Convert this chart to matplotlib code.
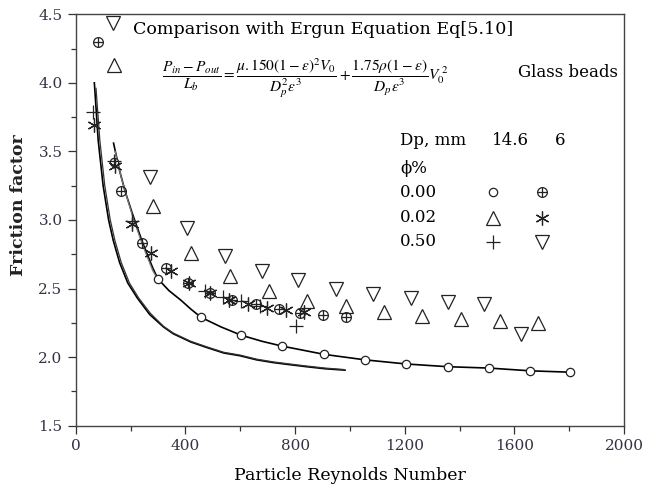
import matplotlib
matplotlib.use("Agg")
import matplotlib.pyplot as plt

plt.rcParams['font.family'] = ['DejaVu Serif']
plt.rcParams['mathtext.fontset'] = 'stix'

# --- measured points (read off the reference) ---
# 14.6 mm, 0.00 %  (open circles)
re_c146 = [140, 300, 457, 603, 753, 906, 1055, 1205, 1357, 1508, 1658, 1803]
f_c146 = [3.42, 2.57, 2.29, 2.16, 2.08, 2.02, 1.98, 1.95, 1.93, 1.92, 1.90, 1.89]

# 6 mm, 0.00 %  (circle with cross)
re_c6 = [80, 164, 243, 328, 411, 490, 571, 657, 740, 819, 902, 985]
f_c6 = [4.30, 3.21, 2.83, 2.65, 2.54, 2.47, 2.42, 2.39, 2.35, 2.32, 2.31, 2.29]

# 14.6 mm, 0.02 %  (up triangles)
re_t146 = [140, 282, 422, 564, 705, 844, 985, 1125, 1264, 1405, 1547, 1687]
f_t146 = [4.13, 3.10, 2.76, 2.59, 2.48, 2.41, 2.37, 2.33, 2.30, 2.28, 2.26, 2.25]

# 6 mm, 0.02 %  (asterisks)
re_a6 = [68, 142, 206, 273, 349, 413, 490, 560, 627, 697, 767, 834]
f_a6 = [3.69, 3.39, 2.97, 2.76, 2.63, 2.54, 2.47, 2.42, 2.39, 2.36, 2.34, 2.33]

# 14.6 mm, 0.50 %  (plus)
re_p146 = [64, 140, 206, 472, 538, 602, 672, 803]
f_p146 = [3.79, 3.43, 2.99, 2.48, 2.44, 2.41, 2.37, 2.23]

# 6 mm, 0.50 %  (down triangles)
re_d6 = [137, 271, 407, 543, 678, 812, 948, 1083, 1222, 1357, 1490, 1624]
f_d6 = [4.44, 3.31, 2.94, 2.74, 2.63, 2.56, 2.50, 2.46, 2.43, 2.40, 2.39, 2.17]

# Ergun curves (traced)
re_e1 = [68, 82, 100, 120, 137, 160, 190, 225, 270, 320, 356, 420, 478, 540,
         599, 660, 721, 780, 842, 910, 982]
f_e1 = [4.00, 3.58, 3.25, 3.00, 2.85, 2.69, 2.54, 2.43, 2.31, 2.22, 2.17, 2.11,
        2.07, 2.03, 2.01, 1.98, 1.96, 1.945, 1.93, 1.915, 1.905]
re_e2 = [74, 88, 106, 126, 143, 166, 196, 230, 272, 320, 356, 420, 478, 540,
         599, 660, 721, 780, 842, 910, 975]
f_e2 = [3.96, 3.58, 3.25, 3.00, 2.85, 2.69, 2.54, 2.43, 2.32, 2.225, 2.175, 2.115,
        2.075, 2.035, 2.015, 1.985, 1.965, 1.95, 1.935, 1.92, 1.91]
re_e3 = [138, 160, 180, 206, 243, 281, 300, 340, 383, 420, 457, 530, 603, 680,
         753, 830, 906, 1055, 1205, 1357, 1508, 1658, 1803]
f_e3 = [3.56, 3.36, 3.21, 3.05, 2.84, 2.65, 2.57, 2.485, 2.416, 2.35, 2.29, 2.22,
        2.16, 2.115, 2.08, 2.05, 2.02, 1.98, 1.95, 1.93, 1.92, 1.90, 1.89]
re_e4 = [144, 166, 186, 210, 245, 281, 300]
f_e4 = [3.50, 3.31, 3.17, 3.01, 2.81, 2.63, 2.565]

fig = plt.figure(figsize=(6.46, 4.94), dpi=100)
ax = fig.add_axes([0.1172, 0.1383, 0.8490, 0.8328])

ink = '#222222'
ax.plot(re_e1, f_e1, color='black', lw=1.2)
ax.plot(re_e2, f_e2, color='#333333', lw=0.9)
ax.plot(re_e3, f_e3, color='black', lw=1.2)
ax.plot(re_e4, f_e4, color='#777777', lw=0.9)

ax.plot(re_c146, f_c146, 'o', ms=6, mfc='white', mec=ink, mew=0.9, ls='none')
ax.plot(re_c6, f_c6, 'o', ms=7, mfc='none', mec=ink, mew=0.9, ls='none')
ax.plot(re_c6, f_c6, '+', ms=7, mec=ink, mew=0.9, ls='none')
ax.plot(re_t146, f_t146, '^', ms=10, mfc='none', mec=ink, mew=0.9, ls='none')
ax.plot(re_a6, f_a6, marker=(6, 2, 0), ms=10, mec=ink, mew=0.9, ls='none')
ax.plot(re_p146, f_p146, '+', ms=10, mec=ink, mew=0.9, ls='none')
ax.plot(re_d6, f_d6, 'v', ms=10, mfc='none', mec=ink, mew=0.9, ls='none')

ax.set_xlim(0, 2000)
ax.set_ylim(1.5, 4.5)
ax.set_xticks(range(0, 2001, 400))
ax.set_xticks(range(200, 2000, 400), minor=True)
ax.set_yticks([1.5, 2.0, 2.5, 3.0, 3.5, 4.0, 4.5])
ax.set_yticklabels(['1.5', '2.0', '2.5', '3.0', '3.5', '4.0', '4.5'])
ax.set_yticks([1.75, 2.25, 2.75, 3.25, 3.75, 4.25], minor=True)
ax.tick_params(which='both', direction='out', top=False, right=False,
               labelsize=11, labelcolor='#333344', color='#333333')
ax.tick_params(which='major', length=6, width=0.9)
ax.tick_params(which='minor', length=3.5, width=0.9)
for s in ax.spines.values():
    s.set_color('#444444')
    s.set_linewidth(1.0)

ax.set_xlabel('Particle Reynolds Number', fontsize=12.5, labelpad=10)
ax.set_ylabel('Friction factor', fontsize=12.5, fontweight='bold', color='#222222')
ax.yaxis.set_label_coords(-0.088, 0.536)

ax.text(0.1045, 0.962, 'Comparison with Ergun Equation Eq[5.10]', transform=ax.transAxes,
        fontsize=12.6, va='center', ha='left')
eq = (r'$\dfrac{P_{in}-P_{out}}{L_b}=\dfrac{\mu.150\left(1-\varepsilon\right)^2V_0}{D_p^2\varepsilon^3}'
      r'+\dfrac{1.75\rho\left(1-\varepsilon\right)}{D_p\varepsilon^3}V_0^{\ 2}$')
ax.text(0.418, 0.845, eq, transform=ax.transAxes, fontsize=11.1, va='center', ha='center')
ax.text(0.807, 0.859, 'Glass beads', transform=ax.transAxes, fontsize=12, va='center', ha='left')

# key table
fs = 12
ax.text(0.5915, 0.692, 'Dp, mm', transform=ax.transAxes, fontsize=fs, va='center', ha='left')
ax.text(0.759, 0.692, '14.6', transform=ax.transAxes, fontsize=fs, va='center', ha='left')
ax.text(0.874, 0.692, '6', transform=ax.transAxes, fontsize=fs, va='center', ha='left')
ax.text(0.5915, 0.626, 'ϕ%', transform=ax.transAxes, fontsize=fs, va='center', ha='left')
rows = ['0.00', '0.02', '0.50']
row_y = [0.568, 0.505, 0.4465]
for lab, yy in zip(rows, row_y):
    ax.text(0.5915, yy, lab, transform=ax.transAxes, fontsize=fs, va='center', ha='left')
kx1, kx2 = 0.761, 0.850
ax.plot([kx1], [row_y[0]], 'o', ms=6, mfc='white', mec=ink, mew=0.9, transform=ax.transAxes)
ax.plot([kx1], [row_y[1]], '^', ms=10, mfc='none', mec=ink, mew=0.9, transform=ax.transAxes)
ax.plot([kx1], [row_y[2]], '+', ms=10, mec=ink, mew=0.9, transform=ax.transAxes)
ax.plot([kx2], [row_y[0]], 'o', ms=7, mfc='none', mec=ink, mew=0.9, transform=ax.transAxes)
ax.plot([kx2], [row_y[0]], '+', ms=7, mec=ink, mew=0.9, transform=ax.transAxes)
ax.plot([kx2], [row_y[1]], marker=(6, 2, 0), ms=10, mec=ink, mew=0.9, transform=ax.transAxes)
ax.plot([kx2], [row_y[2]], 'v', ms=10, mfc='none', mec=ink, mew=0.9, transform=ax.transAxes)

fig.savefig('out.png', dpi=100)
